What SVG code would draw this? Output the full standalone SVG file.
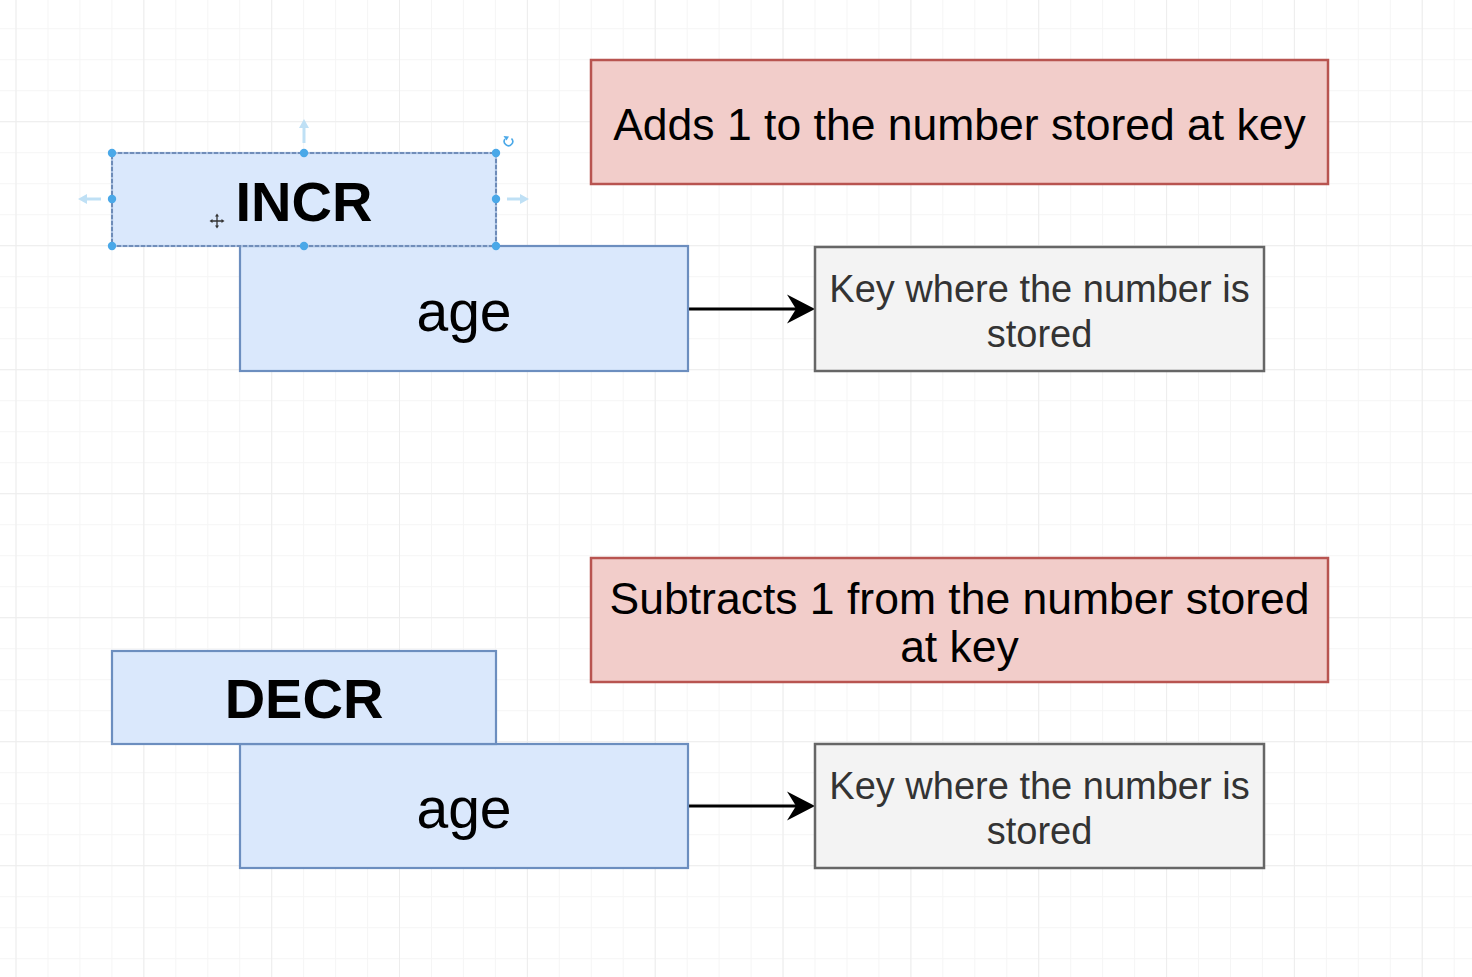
<svg xmlns="http://www.w3.org/2000/svg" width="1472" height="977" viewBox="0 0 1472 977">
  <defs>
    <style>
      .blue { fill: #dae8fc; stroke: #6c8ebf; stroke-width: 2.2; }
      .red { fill: #f2cdca; stroke: #b85450; stroke-width: 2.5; }
      .gray { fill: #f3f3f3; stroke: #666666; stroke-width: 2.5; }
      .t { font-family: "Liberation Sans", Arial, Helvetica, sans-serif; text-anchor: middle; fill: #000000; }
      .cmd { font-size: 56px; font-weight: bold; }
      .arg { font-size: 57px; }
      .desc { font-size: 44.5px; }
      .key { font-size: 38px; fill: #333333; }
      .edge { stroke: #000000; stroke-width: 2.8; fill: none; }
      .handle { fill: #4aa8e8; }
      .hint { stroke: #bfe0f5; stroke-width: 3; fill: none; }
      .hinthead { fill: #bfe0f5; }
    </style>
    <pattern id="gridMinor" patternUnits="userSpaceOnUse" x="15.5" y="28.2" width="31.96" height="31">
      <rect x="0" y="0" width="1" height="31" fill="#f5f5f5"/>
      <rect x="0" y="0" width="31.96" height="1" fill="#f5f5f5"/>
    </pattern>
    <pattern id="gridMajor" patternUnits="userSpaceOnUse" x="15.5" y="-2.8" width="127.84" height="124">
      <rect x="0" y="0" width="1" height="124" fill="#ededed"/>
      <rect x="0" y="0" width="127.84" height="1" fill="#ededed"/>
    </pattern>
    <marker id="arrow" viewBox="-12 -17 32 34" markerUnits="userSpaceOnUse" markerWidth="32" markerHeight="34" refX="0" refY="0" orient="auto">
      <path d="M18,0 L-10,-14.5 L-1,0 L-10,14.5 Z" fill="#000000"/>
    </marker>
  </defs>

  <rect x="0" y="0" width="1472" height="977" fill="#ffffff"/>
  <rect x="0" y="0" width="1472" height="977" fill="url(#gridMinor)"/>
  <rect x="0" y="0" width="1472" height="977" fill="url(#gridMajor)"/>

  <g id="connectors">
    <line class="edge" x1="688" y1="309" x2="797" y2="309" marker-end="url(#arrow)"/>
    <line class="edge" x1="688" y1="806" x2="797" y2="806" marker-end="url(#arrow)"/>
  </g>

  <!-- INCR section -->
  <g id="incr-desc">
    <rect class="red" x="591" y="60" width="737" height="124"/>
    <text class="t desc" x="959.5" y="140">Adds 1 to the number stored at key</text>
  </g>
  <g id="incr-age">
    <rect class="blue" x="240" y="246" width="448" height="125"/>
    <text class="t arg" x="464" y="331">age</text>
  </g>
  <g id="incr-cmd">
    <rect class="blue" x="112" y="153" width="384" height="93" style="stroke:#a9bfdf"/>
    <text class="t cmd" x="304" y="221">INCR</text>
  </g>
  <g id="incr-key">
    <rect class="gray" x="815" y="247" width="449" height="124"/>
    <text class="t key" x="1039.5" y="302">Key where the number is</text>
    <text class="t key" x="1039.5" y="346.5">stored</text>
  </g>

  <!-- DECR section -->
  <g id="decr-desc">
    <rect class="red" x="591" y="558" width="737" height="124"/>
    <text class="t desc" x="959.5" y="614">Subtracts 1 from the number stored</text>
    <text class="t desc" x="959.5" y="662">at key</text>
  </g>
  <g id="decr-age">
    <rect class="blue" x="240" y="744" width="448" height="124"/>
    <text class="t arg" x="464" y="828">age</text>
  </g>
  <g id="decr-cmd">
    <rect class="blue" x="112" y="651" width="384" height="93"/>
    <text class="t cmd" x="304" y="718">DECR</text>
  </g>
  <g id="decr-key">
    <rect class="gray" x="815" y="744" width="449" height="124"/>
    <text class="t key" x="1039.5" y="799">Key where the number is</text>
    <text class="t key" x="1039.5" y="843.5">stored</text>
  </g>

  <!-- selection overlay on INCR -->
  <g id="selection">
    <rect x="112" y="153" width="384" height="93" fill="none" stroke="#5f7fae" stroke-width="1.6" stroke-dasharray="4 2"/>
    <circle class="handle" cx="112" cy="153" r="4.2"/>
    <circle class="handle" cx="304" cy="153" r="4.2"/>
    <circle class="handle" cx="496" cy="153" r="4.2"/>
    <circle class="handle" cx="112" cy="199" r="4.2"/>
    <circle class="handle" cx="496" cy="199" r="4.2"/>
    <circle class="handle" cx="112" cy="246" r="4.2"/>
    <circle class="handle" cx="304" cy="246" r="4.2"/>
    <circle class="handle" cx="496" cy="246" r="4.2"/>
    <path class="hint" d="M304,143 V127"/>
    <path class="hinthead" d="M304,119 L299,128 L309,128 Z"/>
    <path class="hint" d="M101,199 H87"/>
    <path class="hinthead" d="M78,199 L87,194 L87,204 Z"/>
    <path class="hint" d="M507,199 H521"/>
    <path class="hinthead" d="M529,199 L520,194 L520,204 Z"/>
    <path d="M511.5,138.5 A4.2,4.2 0 1 1 505,139" fill="none" stroke="#4aa8e8" stroke-width="1.6"/>
    <path d="M503.5,136 L506.5,140.5 L509,136.5 Z" fill="#4aa8e8"/>
    <path d="M211,221 H223 M217,215 V227" stroke="#333333" stroke-width="1.3" fill="none"/>
    <path d="M217,213.5 L215,216.5 L219,216.5 Z M217,228.5 L215,225.5 L219,225.5 Z M209.5,221 L212.5,219 L212.5,223 Z M224.5,221 L221.5,219 L221.5,223 Z" fill="#333333"/>
  </g>
</svg>
